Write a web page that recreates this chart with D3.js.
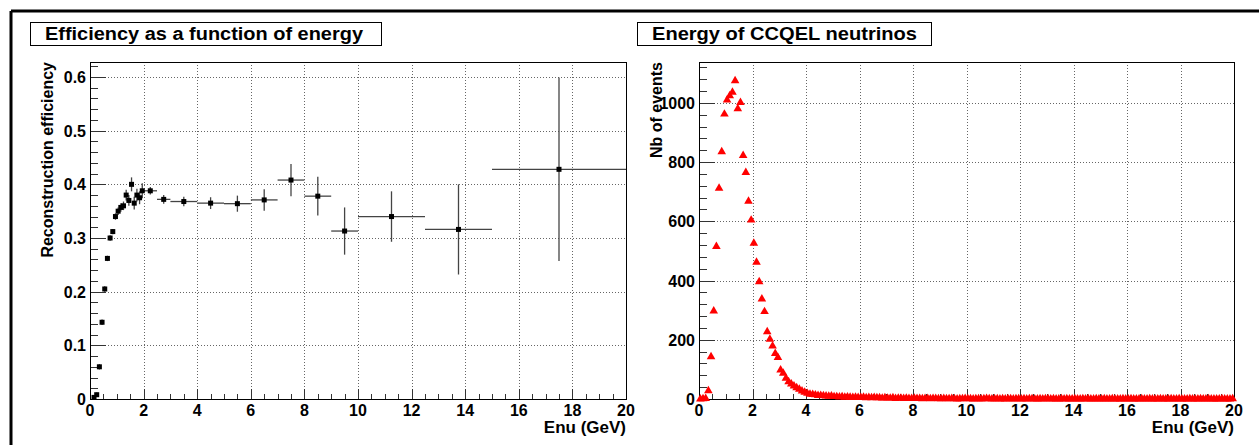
<!DOCTYPE html>
<html>
<head>
<meta charset="utf-8">
<script src="https://cdn.jsdelivr.net/npm/d3@7"></script>
<style>
  body { margin: 0; background: #fff; }
  text { font-family: "Liberation Sans", Arial, sans-serif; font-weight: bold; fill: #000; }
</style>
</head>
<body>
<div id="my_dataviz"></div>
<script>

// efficiency bins (GeV), values and errors
const effLow  = [0.1,0.2,0.3,0.4,0.5,0.6,0.7,0.8,0.9,1.0,1.1,1.2,1.3,1.4,1.5,1.6,1.7,1.8,1.9,2.0,2.5,3,4,5,6,7,8,9,10,12.5,15];
const effHigh = [0.2,0.3,0.4,0.5,0.6,0.7,0.8,0.9,1.0,1.1,1.2,1.3,1.4,1.5,1.6,1.7,1.8,1.9,2.0,2.5,3,4,5,6,7,8,9,10,12.5,15,20];
const effVal  = [0.003,0.008,0.06,0.143,0.205,0.262,0.30,0.312,0.34,0.35,0.357,0.36,0.38,0.37,0.40,0.365,0.38,0.375,0.388,
                 0.388,0.372,0.368,0.365,0.364,0.371,0.408,0.378,0.313,0.34,0.316,0.428];
const effErr  = [0.003,0.004,0.005,0.005,0.005,0.005,0.005,0.005,0.006,0.007,0.008,0.008,0.01,0.01,0.013,0.012,0.012,0.012,0.014,
                 0.007,0.008,0.009,0.011,0.015,0.02,0.03,0.036,0.044,0.047,0.084,0.171];

// CCQEL neutrino energy histogram, 0.1 GeV bins from 0 to 20
const nuCounts = [
  0,1,2,28,143,297,515,712,835,962, 1010,1024,1036,1075,980,1001,822,765,668,604,
  526,462,396,338,295,227,202,179,154,140, 98,87,70,58,51,44,38,33,27,23,
  19,16,15,14,12,12,11,10,9,10, 8,8,7,8,6,7,6,5,6,5,
  5,6,4,5,4,5,4,4,3,4, 3,3,4,2,3,3,2,3,2,2,
  3,2,2,1,2,2,1,2,2,1, 1,2,1,1,2,1,0,1,1,2,
  1,1,0,1,1,0,1,2,1,0, 1,1,0,1,0,1,1,0,1,1,
  0,1,0,1,1,0,0,1,0,1, 1,0,1,0,0,1,0,1,0,0,
  1,0,0,1,0,1,0,0,1,0, 0,1,0,0,1,0,0,0,1,0,
  0,1,0,0,0,1,0,0,1,0, 0,0,1,0,0,0,1,0,0,1,
  0,0,0,1,0,0,0,1,0,0, 1,0,0,0,0,1,0,0,0,1
];

const xTicks = [0,2,4,6,8,10,12,14,16,18,20];
const effTicks = [0,0.1,0.2,0.3,0.4,0.5,0.6];
const nuTicks = [0,200,400,600,800,1000];

const W = 1259, H = 445;

let svg = d3.select("#my_dataviz")
    .append("svg")
    .attr("width", W)
    .attr("height", H);

// canvas border (left and top only)
svg.append("line").attr("x1", 11).attr("y1", 11).attr("x2", W).attr("y2", 11)
    .attr("stroke", "#000").attr("stroke-width", 3);
svg.append("line").attr("x1", 11).attr("y1", 11).attr("x2", 11).attr("y2", H)
    .attr("stroke", "#000").attr("stroke-width", 3);

function panel(opt) {
    let g = svg.append("g");
    let x = d3.scaleLinear().domain([0, 20]).range([opt.left, opt.right]);
    let y = d3.scaleLinear().domain([0, opt.ymax]).range([opt.bottom, opt.top]);

    // title box
    g.append("rect")
        .attr("x", opt.titleBox[0] + 0.5).attr("y", 22.5)
        .attr("width", opt.titleBox[1] - opt.titleBox[0]).attr("height", 23)
        .attr("fill", "#fff").attr("stroke", "#000");
    g.append("text")
        .attr("x", opt.titleBox[0] + 15).attr("y", 40)
        .attr("textLength", opt.titleLen).attr("lengthAdjust", "spacingAndGlyphs")
        .style("font-size", "18px")
        .text(opt.title);

    // grid
    xTicks.slice(1, -1).forEach(t => {
        g.append("line")
            .attr("x1", Math.round(x(t)) + 0.5).attr("x2", Math.round(x(t)) + 0.5)
            .attr("y1", opt.top).attr("y2", opt.bottom)
            .attr("stroke", "#666").attr("stroke-dasharray", "1,2");
    });
    opt.yTicks.slice(1).forEach(t => {
        g.append("line")
            .attr("x1", opt.left).attr("x2", opt.right)
            .attr("y1", Math.round(y(t)) + 0.5).attr("y2", Math.round(y(t)) + 0.5)
            .attr("stroke", "#666").attr("stroke-dasharray", "1,2");
    });

    // x ticks (pointing up into the frame)
    d3.range(0, 20.001, 0.5).forEach(t => {
        let major = Math.abs(t / 2 - Math.round(t / 2)) < 1e-6;
        g.append("line")
            .attr("x1", Math.round(x(t)) + 0.5).attr("x2", Math.round(x(t)) + 0.5)
            .attr("y1", opt.bottom).attr("y2", opt.bottom - (major ? 10 : 5))
            .attr("stroke", "#333");
    });
    xTicks.forEach(t => {
        g.append("text")
            .attr("x", x(t)).attr("y", opt.bottom + 17)
            .attr("text-anchor", "middle")
            .style("font-size", "16px")
            .text(t);
    });

    // y ticks
    d3.range(0, opt.ymax, opt.yMinor).forEach((t, i) => {
        let major = i % 5 == 0;
        g.append("line")
            .attr("x1", opt.left).attr("x2", opt.left + (major ? 16 : 8))
            .attr("y1", Math.round(y(t)) + 0.5).attr("y2", Math.round(y(t)) + 0.5)
            .attr("stroke", "#333");
    });
    opt.yTicks.forEach(t => {
        g.append("text")
            .attr("x", opt.left - 4).attr("y", y(t) + 6)
            .attr("text-anchor", "end")
            .style("font-size", "16px")
            .text(opt.yFormat(t));
    });

    // axis titles
    g.append("text")
        .attr("x", opt.right).attr("y", opt.bottom + 34)
        .attr("text-anchor", "end")
        .style("font-size", "17px")
        .text("Enu (GeV)");
    g.append("text")
        .attr("transform", "translate(" + opt.yTitleX + "," + opt.top + ") rotate(-90)")
        .attr("text-anchor", "end")
        .style("font-size", "16px")
        .text(opt.yTitle);

    // frame
    g.append("rect")
        .attr("x", opt.left + 0.5).attr("y", opt.top + 0.5)
        .attr("width", opt.right - opt.left).attr("height", opt.bottom - opt.top)
        .attr("fill", "none").attr("stroke", "#000");

    return {g: g, x: x, y: y};
}

// left: efficiency
let p1 = panel({
    left: 90, right: 626, top: 62, bottom: 399, ymax: 0.628,
    yTicks: effTicks, yMinor: 0.02, yFormat: d => d == 0 ? "0" : d3.format(".1f")(d),
    title: "Efficiency as a function of energy", titleBox: [30, 381], titleLen: 318,
    yTitle: "Reconstruction efficiency", yTitleX: 53
});

let effData = effVal.map((v, i) => ({lo: effLow[i], hi: effHigh[i], v: v, e: effErr[i]}));

p1.g.selectAll(".xerr").data(effData).enter().append("line")
    .attr("x1", d => p1.x(d.lo)).attr("x2", d => p1.x(d.hi))
    .attr("y1", d => p1.y(d.v)).attr("y2", d => p1.y(d.v))
    .attr("stroke", "#444").attr("stroke-width", 1.3);
p1.g.selectAll(".yerr").data(effData).enter().append("line")
    .attr("x1", d => p1.x((d.lo + d.hi) / 2)).attr("x2", d => p1.x((d.lo + d.hi) / 2))
    .attr("y1", d => p1.y(d.v - d.e)).attr("y2", d => p1.y(d.v + d.e))
    .attr("stroke", "#444").attr("stroke-width", 1.3);
p1.g.selectAll(".pt").data(effData).enter().append("rect")
    .attr("x", d => p1.x((d.lo + d.hi) / 2) - 2.5)
    .attr("y", d => p1.y(d.v) - 2.5)
    .attr("width", 5).attr("height", 5)
    .attr("fill", "#000");

// right: energy of CCQEL neutrinos
let p2 = panel({
    left: 699, right: 1234, top: 62, bottom: 399, ymax: 1138,
    yTicks: nuTicks, yMinor: 40, yFormat: d => d,
    title: "Energy of CCQEL neutrinos", titleBox: [637, 931], titleLen: 265,
    yTitle: "Nb of events", yTitleX: 662
});

let tri = d3.symbol().type(d3.symbolTriangle).size(32);
p2.g.selectAll(".tri").data(nuCounts).enter().append("path")
    .attr("d", tri)
    .attr("transform", (d, i) => "translate(" + p2.x(i * 0.1 + 0.05) + "," + p2.y(d) + ")")
    .attr("fill", "#ff0000");

</script>
</body>
</html>
